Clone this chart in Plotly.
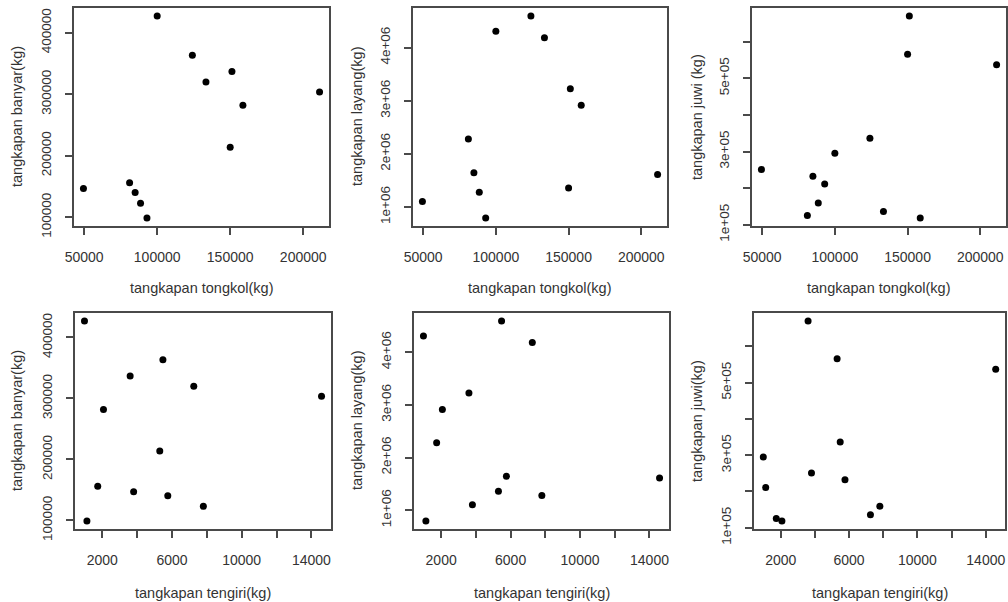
import plotly.graph_objects as go

tongkol = [100000, 124100, 151200, 133400, 211200, 158700, 150000, 49500, 81100, 84900, 88600, 93000]
tengiri = [980, 5480, 3600, 7250, 14580, 2070, 5300, 3800, 1740, 5760, 7800, 1120]
banyar = [427000, 363500, 337000, 320000, 303500, 282000, 214000, 147000, 156100, 140500, 123000, 99000]
layang = [4310000, 4594000, 3225000, 4185000, 1610000, 2915000, 1360000, 1106000, 2280000, 1644000, 1280000, 795000]
juwi = [295000, 336000, 670000, 136000, 537000, 118500, 566000, 251000, 125200, 232500, 159500, 211000]

x_tongkol_ticks = [50000, 100000, 150000, 200000]
x_tongkol_text = ["50000", "100000", "150000", "200000"]
x_tengiri_ticks = [2000, 4000, 6000, 8000, 10000, 12000, 14000]
x_tengiri_text = ["2000", "", "6000", "", "10000", "", "14000"]
y_banyar_ticks = [100000, 200000, 300000, 400000]
y_banyar_text = ["100000", "200000", "300000", "400000"]
y_layang_ticks = [1000000, 2000000, 3000000, 4000000]
y_layang_text = ["1e+06", "2e+06", "3e+06", "4e+06"]
y_juwi_ticks = [100000, 200000, 300000, 400000, 500000, 600000]
y_juwi_text = ["1e+05", "", "3e+05", "", "5e+05", ""]

W, H = 1008, 602
TXT = "#333333"
LINE = "#4a4a4a"
FONT = "Liberation Sans, Arial, sans-serif"

panels = [
    # x, y, xticks, xtext, yticks, ytext, xtitle, ytitle, box (l, t, r, b), ytitle_x, xtitle_y
    (tongkol, banyar, x_tongkol_ticks, x_tongkol_text, y_banyar_ticks, y_banyar_text,
     "tangkapan tongkol(kg)", "tangkapan banyar(kg)", (74, 8, 329, 226), 17, 288),
    (tongkol, layang, x_tongkol_ticks, x_tongkol_text, y_layang_ticks, y_layang_text,
     "tangkapan tongkol(kg)", "tangkapan layang(kg)", (413, 8, 667, 226), 357, 288),
    (tongkol, juwi, x_tongkol_ticks, x_tongkol_text, y_juwi_ticks, y_juwi_text,
     "tangkapan tongkol(kg)", "tangkapan juwi (kg)", (752, 8, 1006, 226), 697, 288),
    (tengiri, banyar, x_tengiri_ticks, x_tengiri_text, y_banyar_ticks, y_banyar_text,
     "tangkapan tengiri(kg)", "tangkapan banyar(kg)", (75, 313, 331, 529), 17, 593),
    (tengiri, layang, x_tengiri_ticks, x_tengiri_text, y_layang_ticks, y_layang_text,
     "tangkapan tengiri(kg)", "tangkapan layang(kg)", (414, 313, 669, 529), 357, 593),
    (tengiri, juwi, x_tengiri_ticks, x_tengiri_text, y_juwi_ticks, y_juwi_text,
     "tangkapan tengiri(kg)", "tangkapan juwi(kg)", (754, 313, 1005, 529), 697, 593),
]


def padded(vals):
    lo, hi = min(vals), max(vals)
    d = (hi - lo) * 0.04
    return [lo - d, hi + d]


fig = go.Figure()
annotations = []
for i, (xs, ys, xtv, xtt, ytv, ytt, xtitle, ytitle, box, ytx, xty) in enumerate(panels):
    n = "" if i == 0 else str(i + 1)
    l, t, r, b = box
    fig.add_trace(go.Scatter(
        x=xs, y=ys, mode="markers",
        marker=dict(size=7, color="black"),
        xaxis="x" + n, yaxis="y" + n, showlegend=False, hoverinfo="x+y"))
    common = dict(showline=True, mirror=True, linecolor=LINE, linewidth=1.5,
                  showgrid=False, zeroline=False, ticks="outside", ticklen=7,
                  tickcolor=LINE, tickwidth=1.5, automargin=False)
    fig.update_layout(**{
        "xaxis" + n: dict(domain=[l / W, r / W], anchor="y" + n, range=padded(xs),
                          tickvals=xtv, ticktext=xtt, ticklabelstandoff=10,
                          tickfont=dict(family=FONT, size=14, color=TXT), **common),
        "yaxis" + n: dict(domain=[1 - b / H, 1 - t / H], anchor="x" + n, range=padded(ys),
                          tickvals=ytv, ticktext=ytt, tickangle=-90, ticklabelstandoff=9,
                          tickfont=dict(family=FONT, size=13.5, color=TXT), **common),
    })
    annotations.append(dict(
        text=xtitle, xref="paper", yref="paper", x=(l + r) / 2 / W,
        y=1 - xty / H, showarrow=False, xanchor="center", yanchor="middle",
        font=dict(family=FONT, size=14.5, color=TXT)))
    annotations.append(dict(
        text=ytitle, xref="paper", yref="paper", x=ytx / W,
        y=1 - (t + b) / 2 / H, showarrow=False, xanchor="center", yanchor="middle",
        textangle=-90, font=dict(family=FONT, size=14.5, color=TXT)))

fig.update_layout(
    width=W, height=H, margin=dict(l=0, r=0, t=0, b=0, autoexpand=False),
    paper_bgcolor="white", plot_bgcolor="white",
    annotations=annotations,
)

fig.write_html("out.html")
